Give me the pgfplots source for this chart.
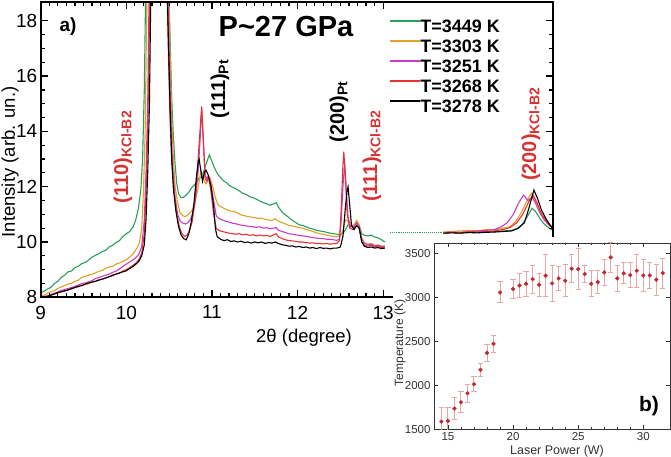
\documentclass[border=0pt]{standalone}
\usepackage{fontspec}
\setmainfont{Liberation Sans}
\usepackage{pgfplots}
\pgfplotsset{compat=1.18}
\definecolor{cgreen}{RGB}{40,160,90}
\definecolor{corange}{RGB}{225,160,40}
\definecolor{cmag}{RGB}{200,60,200}
\definecolor{cred}{RGB}{232,50,50}
\definecolor{ltxt}{RGB}{215,50,50}
\definecolor{mk}{RGB}{196,38,46}
\definecolor{eb}{RGB}{234,165,165}
\begin{document}
\begin{tikzpicture}
\path[use as bounding box] (0pt,0pt) rectangle (671pt,457pt);
\begin{axis}[
  at={(40.7pt,159.7pt)}, anchor=south west, scale only axis,
  width=512pt, height=295.3pt,
  xmin=9, xmax=14.98, ymin=8, ymax=18.68,
  unbounded coords=jump,
  axis on top,
  xtick={9,10,11,12,13}, ytick={8,10,12,14,16,18},
  minor x tick num=9, minor y tick num=3,
  xtick pos=both, ytick pos=both,
  tick align=inside,
  major tick length=7pt, minor tick length=4pt,
  axis line style={line width=1.6pt, black},
  tick style={line width=1.2pt, black},
  /pgf/number format/assume math mode=true,
  ticklabel style={font=\fontsize{19}{19}\selectfont},
  xticklabel style={yshift=-5pt},
  legend style={at={(axis description cs:0.680,0.941)}, anchor=north west, draw=none, fill=none, inner sep=0pt,
    font=\fontsize{18}{18}\selectfont\bfseries, row sep=5pt,
    nodes={inner sep=0pt, text height=13pt, text depth=2pt},
    /tikz/every even column/.append style={column sep=10pt}},
  legend cell align=left,
  legend image code/.code={\draw[#1, line width=1.3pt] (0pt,6pt) -- (30pt,6pt);},
]
\addplot[cgreen, line width=1.1pt] coordinates {
(9.00,8.15)(9.04,8.22)(9.08,8.30)(9.12,8.36)(9.16,8.50)(9.20,8.58)(9.24,8.72)(9.28,8.80)(9.32,8.92)(9.36,8.95)(9.40,9.08)(9.44,9.12)(9.48,9.22)(9.52,9.26)(9.56,9.35)(9.60,9.45)(9.64,9.52)(9.68,9.58)(9.72,9.66)(9.76,9.70)(9.80,9.82)(9.84,9.88)(9.88,9.98)(9.92,10.05)(9.96,10.20)(10.00,10.30)(10.04,10.38)(10.08,10.55)(10.11,10.80)(10.14,11.20)(10.17,11.90)(10.19,13.0)(10.21,15.5)(10.23,20)(10.49,20)(10.51,17.5)(10.53,15.2)(10.55,13.8)(10.57,12.8)(10.59,12.1)(10.61,11.75)(10.64,11.6)(10.67,11.62)(10.70,11.7)(10.73,11.8)(10.76,11.95)(10.79,12.05)(10.82,12.15)(10.85,12.3)(10.88,12.35)(10.91,12.6)(10.94,12.9)(10.97,13.15)(10.99,13.0)(11.02,12.75)(11.05,12.55)(11.08,12.4)(11.11,12.3)(11.14,12.2)(11.17,12.15)(11.20,12.05)(11.24,11.98)(11.28,11.92)(11.32,11.85)(11.36,11.76)(11.40,11.72)(11.44,11.64)(11.48,11.6)(11.52,11.55)(11.56,11.48)(11.60,11.42)(11.64,11.38)(11.68,11.33)(11.72,11.38)(11.75,11.42)(11.78,11.25)(11.82,11.08)(11.86,10.98)(11.90,10.88)(11.94,10.78)(11.98,10.7)(12.02,10.62)(12.06,10.6)(12.10,10.55)(12.14,10.5)(12.18,10.47)(12.22,10.42)(12.26,10.4)(12.30,10.38)(12.34,10.35)(12.38,10.32)(12.42,10.3)(12.46,10.28)(12.50,10.26)(12.53,10.3)(12.56,10.45)(12.59,10.62)(12.62,10.58)(12.66,10.62)(12.69,10.72)(12.72,10.6)(12.75,10.3)(12.78,10.25)(12.82,10.22)(12.86,10.25)(12.90,10.18)(12.94,10.15)(12.98,10.08)(13.02,10.0)
(13.05,nan)
(13.70,10.33)(13.80,10.35)(13.90,10.33)(14.00,10.36)(14.10,10.35)(14.20,10.38)(14.30,10.37)(14.40,10.40)(14.50,10.42)(14.56,10.48)(14.62,10.62)(14.68,10.9)(14.74,11.22)(14.78,11.1)(14.83,10.85)(14.88,10.65)(14.94,10.5)(14.98,10.42)
};
\addlegendentry{T=3449 K}
\addplot[corange, line width=1.1pt] coordinates {
(9.00,8.05)(9.04,8.08)(9.08,8.15)(9.12,8.2)(9.16,8.24)(9.20,8.32)(9.24,8.38)(9.28,8.42)(9.32,8.48)(9.36,8.5)(9.40,8.58)(9.44,8.62)(9.48,8.72)(9.52,8.76)(9.56,8.8)(9.60,8.84)(9.64,8.88)(9.68,8.94)(9.72,8.97)(9.76,9.05)(9.80,9.1)(9.84,9.12)(9.88,9.2)(9.92,9.24)(9.96,9.3)(10.00,9.36)(10.04,9.45)(10.08,9.58)(10.12,9.75)(10.15,9.95)(10.18,10.5)(10.20,11.8)(10.22,14)(10.245,20)(10.49,20)(10.51,17)(10.53,14.5)(10.55,13)(10.57,12)(10.60,11.4)(10.63,11.05)(10.66,10.95)(10.69,10.92)(10.72,10.98)(10.75,11.08)(10.78,11.2)(10.81,11.55)(10.84,12.0)(10.87,12.55)(10.89,12.4)(10.91,12.2)(10.93,12.1)(10.96,12.25)(10.98,12.3)(11.01,12.0)(11.04,11.6)(11.07,11.35)(11.10,11.28)(11.14,11.22)(11.18,11.15)(11.22,11.12)(11.26,11.1)(11.30,11.05)(11.34,10.98)(11.38,10.95)(11.42,10.92)(11.46,10.9)(11.50,10.88)(11.54,10.85)(11.58,10.86)(11.62,10.82)(11.66,10.8)(11.70,10.78)(11.74,10.84)(11.78,10.75)(11.82,10.7)(11.86,10.65)(11.90,10.6)(11.94,10.58)(11.98,10.55)(12.02,10.52)(12.06,10.5)(12.10,10.45)(12.14,10.42)(12.18,10.38)(12.22,10.33)(12.26,10.3)(12.30,10.28)(12.34,10.25)(12.38,10.22)(12.42,10.2)(12.46,10.2)(12.50,10.22)(12.53,10.4)(12.56,10.8)(12.59,10.75)(12.62,10.55)(12.66,10.6)(12.69,10.78)(12.72,10.62)(12.75,10.15)(12.78,9.98)(12.82,9.92)(12.86,9.95)(12.90,9.88)(12.94,9.9)(12.98,9.85)(13.02,9.85)
(13.05,nan)
(13.70,10.36)(13.80,10.38)(13.90,10.4)(14.00,10.42)(14.10,10.4)(14.20,10.45)(14.30,10.44)(14.40,10.5)(14.48,10.55)(14.55,10.75)(14.62,11.1)(14.68,11.5)(14.73,11.76)(14.77,11.55)(14.82,11.2)(14.88,10.85)(14.94,10.65)(14.98,10.55)
};
\addlegendentry{T=3303 K}
\addplot[cmag, line width=1.1pt] coordinates {
(9.00,8.0)(9.04,8.03)(9.08,8.05)(9.12,8.1)(9.16,8.15)(9.20,8.18)(9.24,8.25)(9.28,8.28)(9.32,8.32)(9.36,8.35)(9.40,8.4)(9.44,8.44)(9.48,8.5)(9.52,8.52)(9.56,8.56)(9.60,8.6)(9.64,8.68)(9.68,8.72)(9.72,8.76)(9.76,8.8)(9.80,8.84)(9.84,8.9)(9.88,8.95)(9.92,9.02)(9.96,9.12)(10.00,9.2)(10.04,9.28)(10.08,9.36)(10.12,9.46)(10.15,9.58)(10.18,9.85)(10.21,10.8)(10.23,12.5)(10.25,15)(10.27,20)(10.48,20)(10.50,17)(10.52,14.5)(10.54,12.8)(10.57,11.6)(10.60,11.0)(10.63,10.75)(10.66,10.68)(10.69,10.65)(10.72,10.7)(10.75,10.82)(10.78,11.05)(10.81,11.6)(10.84,12.6)(10.86,13.6)(10.88,14.8)(10.90,13.6)(10.92,12.4)(10.94,12.3)(10.96,12.4)(10.99,12.05)(11.02,11.5)(11.05,10.95)(11.08,10.85)(11.12,10.8)(11.16,10.75)(11.20,10.72)(11.24,10.68)(11.28,10.66)(11.32,10.62)(11.36,10.6)(11.40,10.58)(11.44,10.56)(11.48,10.55)(11.52,10.53)(11.56,10.55)(11.60,10.5)(11.64,10.52)(11.68,10.48)(11.72,10.5)(11.75,10.52)(11.78,10.42)(11.82,10.38)(11.86,10.34)(11.90,10.3)(11.94,10.28)(11.98,10.26)(12.02,10.24)(12.06,10.22)(12.10,10.2)(12.14,10.18)(12.18,10.16)(12.22,10.14)(12.26,10.13)(12.30,10.12)(12.34,10.1)(12.38,10.1)(12.42,10.08)(12.46,10.06)(12.49,10.1)(12.51,10.8)(12.53,12.0)(12.55,12.85)(12.57,11.8)(12.59,10.9)(12.62,10.55)(12.66,10.55)(12.69,10.7)(12.72,10.55)(12.75,10.1)(12.78,9.95)(12.82,9.9)(12.86,9.92)(12.90,9.86)(12.94,9.88)(12.98,9.84)(13.02,9.85)
(13.05,nan)
(13.70,10.34)(13.80,10.36)(13.90,10.35)(14.00,10.38)(14.10,10.4)(14.20,10.42)(14.30,10.45)(14.38,10.55)(14.45,10.7)(14.52,11.0)(14.58,11.4)(14.64,11.7)(14.69,11.5)(14.74,11.62)(14.78,11.4)(14.83,11.05)(14.88,10.8)(14.94,10.6)(14.98,10.52)
};
\addlegendentry{T=3251 K}
\addplot[cred, line width=1.1pt] coordinates {
(9.00,8.0)(9.04,8.0)(9.08,8.03)(9.12,8.07)(9.16,8.12)(9.20,8.15)(9.24,8.2)(9.28,8.22)(9.32,8.28)(9.36,8.3)(9.40,8.36)(9.44,8.38)(9.48,8.44)(9.52,8.46)(9.56,8.5)(9.60,8.55)(9.64,8.58)(9.68,8.64)(9.72,8.66)(9.76,8.7)(9.80,8.75)(9.84,8.78)(9.88,8.84)(9.92,8.88)(9.96,8.95)(10.00,9.0)(10.04,9.08)(10.08,9.16)(10.12,9.26)(10.15,9.38)(10.18,9.6)(10.21,10.3)(10.23,11.8)(10.25,14)(10.28,20)(10.47,20)(10.49,17)(10.51,14.5)(10.53,12.9)(10.56,11.8)(10.59,11.0)(10.62,10.55)(10.65,10.3)(10.68,10.2)(10.71,10.25)(10.74,10.42)(10.77,10.75)(10.80,11.4)(10.83,12.6)(10.86,14.0)(10.88,14.9)(10.90,13.7)(10.92,12.3)(10.94,12.2)(10.96,12.35)(10.99,11.8)(11.02,11.0)(11.05,10.5)(11.08,10.42)(11.12,10.38)(11.16,10.35)(11.20,10.32)(11.24,10.3)(11.28,10.28)(11.32,10.3)(11.36,10.26)(11.40,10.28)(11.44,10.24)(11.48,10.26)(11.52,10.22)(11.56,10.25)(11.60,10.22)(11.64,10.24)(11.68,10.2)(11.72,10.26)(11.75,10.3)(11.78,10.18)(11.82,10.12)(11.86,10.08)(11.90,10.05)(11.94,10.04)(11.98,10.02)(12.02,10.0)(12.06,10.0)(12.10,9.98)(12.14,9.96)(12.18,9.97)(12.22,9.94)(12.26,9.95)(12.30,9.93)(12.34,9.95)(12.38,9.92)(12.42,9.94)(12.46,9.95)(12.49,10.05)(12.51,11.2)(12.53,12.8)(12.54,13.27)(12.56,12.3)(12.58,11.0)(12.61,10.5)(12.65,10.45)(12.69,10.6)(12.72,10.5)(12.75,10.0)(12.78,9.88)(12.82,9.85)(12.86,9.88)(12.90,9.82)(12.94,9.84)(12.98,9.8)(13.02,9.82)
(13.05,nan)
(13.70,10.33)(13.80,10.34)(13.90,10.33)(14.00,10.36)(14.10,10.36)(14.20,10.38)(14.30,10.4)(14.40,10.45)(14.48,10.52)(14.56,10.7)(14.63,11.0)(14.70,11.45)(14.75,11.7)(14.80,11.4)(14.85,11.0)(14.90,10.78)(14.95,10.6)(14.98,10.5)
};
\addlegendentry{T=3268 K}
\addplot[black, line width=1.1pt] coordinates {
(9.00,8.0)(9.04,8.02)(9.08,8.04)(9.12,8.08)(9.16,8.12)(9.20,8.18)(9.24,8.2)(9.28,8.24)(9.32,8.26)(9.36,8.32)(9.40,8.35)(9.44,8.4)(9.48,8.42)(9.52,8.48)(9.56,8.52)(9.60,8.55)(9.64,8.58)(9.68,8.62)(9.72,8.66)(9.76,8.7)(9.80,8.74)(9.84,8.8)(9.88,8.84)(9.92,8.88)(9.96,8.92)(10.00,8.96)(10.04,9.04)(10.08,9.12)(10.12,9.22)(10.15,9.32)(10.18,9.5)(10.21,9.9)(10.23,10.8)(10.25,12.5)(10.27,15)(10.29,20)(10.47,20)(10.49,17.5)(10.51,15)(10.53,13.0)(10.55,11.9)(10.58,11.1)(10.61,10.55)(10.64,10.25)(10.67,10.12)(10.70,10.08)(10.73,10.3)(10.76,10.75)(10.79,11.4)(10.82,12.4)(10.84,12.9)(10.85,13.0)(10.87,12.6)(10.89,12.2)(10.91,12.5)(10.93,12.6)(10.96,12.4)(10.99,12.0)(11.02,11.3)(11.04,10.5)(11.06,10.2)(11.10,10.1)(11.14,10.05)(11.18,10.08)(11.22,10.02)(11.26,10.04)(11.30,10.0)(11.34,10.03)(11.38,9.98)(11.42,10.0)(11.46,9.96)(11.50,10.0)(11.54,9.97)(11.58,10.0)(11.62,9.95)(11.66,9.98)(11.70,9.96)(11.74,10.0)(11.78,9.94)(11.82,9.9)(11.86,9.88)(11.90,9.85)(11.94,9.86)(11.98,9.82)(12.02,9.84)(12.06,9.8)(12.10,9.82)(12.14,9.78)(12.18,9.8)(12.22,9.76)(12.26,9.8)(12.30,9.77)(12.34,9.78)(12.38,9.75)(12.42,9.78)(12.46,9.78)(12.50,9.82)(12.53,10.2)(12.56,11.3)(12.58,11.9)(12.59,12.0)(12.61,11.3)(12.63,10.6)(12.66,10.45)(12.69,10.6)(12.72,10.5)(12.75,10.0)(12.78,9.85)(12.82,9.8)(12.86,9.82)(12.90,9.78)(12.94,9.8)(12.98,9.76)(13.02,9.78)
(13.05,nan)
(13.70,10.32)(13.80,10.33)(13.90,10.32)(14.00,10.34)(14.10,10.33)(14.20,10.35)(14.30,10.36)(14.40,10.38)(14.50,10.4)(14.58,10.5)(14.65,10.7)(14.70,11.2)(14.76,11.88)(14.80,11.6)(14.85,11.15)(14.90,10.85)(14.95,10.6)(14.98,10.5)
};
\addlegendentry{T=3278 K}
\addplot[cgreen, line width=1.1pt, densely dotted, forget plot] coordinates {(13.08,10.33)(13.70,10.33)};
\end{axis}
% cover for the inset
\fill[white] (393pt,0pt) rectangle (671pt,220pt);
\begin{axis}[
  at={(434pt,27.7pt)}, anchor=south west, scale only axis,
  width=236pt, height=186.3pt,
  xmin=13.93, xmax=32.05, ymin=1500, ymax=3615,
  xtick={15,20,25,30}, ytick={1500,2000,2500,3000,3500},
  minor x tick num=4,
  xtick pos=both, ytick pos=both,
  tick align=inside,
  major tick length=4pt, minor tick length=2.5pt,
  axis line style={line width=0.6pt, black!80},
  tick style={line width=0.6pt, black!80},
  scaled ticks=false,
  /pgf/number format/1000 sep={},
  /pgf/number format/assume math mode=true,
  ticklabel style={font=\fontsize{11.5}{11.5}\selectfont, text=black!80},
  axis background/.style={fill=white},
]
\addplot[only marks, mark=*, mark size=1.9pt, color=mk,
  error bars/.cd, y dir=both, y explicit,
  error bar style={color=eb, line width=1pt},
  error mark options={rotate=90, mark size=2.6pt, color=eb, line width=1pt}]
  table[x=x, y=y, y error=e] {
x y e
14.5 1587 160
15.0 1595 150
15.5 1735 125
16.0 1807 120
16.5 1909 100
17.0 2012 85
17.5 2175 75
18.0 2368 95
18.5 2470 100
19.0 3054 120
20.0 3092 110
20.5 3133 140
21.0 3152 145
21.5 3205 160
22.0 3141 130
22.5 3243 240
23.0 3156 200
23.5 3213 140
24.0 3187 180
24.5 3323 160
25.0 3319 230
25.5 3262 100
26.0 3152 150
26.5 3171 130
27.0 3281 150
27.5 3452 170
28.0 3213 150
28.5 3270 120
29.0 3251 145
29.5 3300 190
30.0 3247 185
30.5 3247 145
31.0 3198 175
31.5 3274 170
};
\end{axis}
% labels
\node[rotate=90, font=\fontsize{18.5}{18.5}\selectfont] at (10pt,295pt) {Intensity (arb. un.)};
\node[font=\fontsize{18.5}{18.5}\selectfont] at (304pt,119pt) {2θ (degree)};
\node[font=\fontsize{29}{29}\selectfont\bfseries] at (286pt,430pt) {P\textasciitilde 27 GPa};
\node[font=\fontsize{19}{19}\selectfont\bfseries] at (68pt,430pt) {a)};
\node[rotate=90, text=ltxt, font=\fontsize{20}{20}\selectfont\bfseries] at (123pt,300pt) {(110)\textsubscript{KCl-B2}};
\node[rotate=90, text=black, font=\fontsize{20}{20}\selectfont\bfseries] at (220pt,368pt) {(111)\textsubscript{Pt}};
\node[rotate=90, text=black, font=\fontsize{20}{20}\selectfont\bfseries] at (339pt,345pt) {(200)\textsubscript{Pt}};
\node[rotate=90, text=ltxt, font=\fontsize{20}{20}\selectfont\bfseries] at (372pt,301pt) {(111)\textsubscript{KCl-B2}};
\node[rotate=90, text=ltxt, font=\fontsize{20}{20}\selectfont\bfseries] at (531pt,323pt) {(200)\textsubscript{KCl-B2}};
\node[rotate=90, text=black!80, font=\fontsize{12}{12}\selectfont] at (400pt,114pt) {Temperature (K)};
\node[text=black!80, font=\fontsize{12.5}{12.5}\selectfont] at (557pt,6pt) {Laser Power (W)};
\node[font=\fontsize{21}{21}\selectfont\bfseries] at (649pt,51pt) {b)};
\end{tikzpicture}
\end{document}
